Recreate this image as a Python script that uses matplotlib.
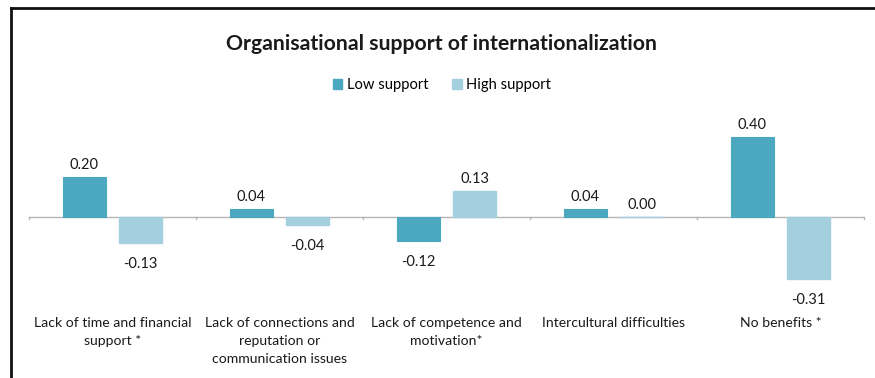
import matplotlib
matplotlib.use("Agg")
import matplotlib.pyplot as plt
from matplotlib.lines import Line2D
from matplotlib.patches import Patch
import numpy as np

categories = [
    "Lack of time and financial\nsupport *",
    "Lack of connections and\nreputation or\ncommunication issues",
    "Lack of competence and\nmotivation*",
    "Intercultural difficulties",
    "No benefits *",
]
low_support = [0.20, 0.04, -0.12, 0.04, 0.40]
high_support = [-0.13, -0.04, 0.13, 0.00, -0.31]
series_names = ["Low support", "High support"]

low_color = "#4BA8BE"
high_color = "#A4CFDF"
text_color = "#1a1a1a"
font = ["Lato", "DejaVu Sans"]

fig = plt.figure(figsize=(8.75, 3.78), dpi=100)
ax = fig.add_axes([29 / 875, 1 - 317 / 378, (864 - 29) / 875, 200 / 378])

x = np.arange(len(categories))
width = 0.26
offset = 0.168
ax.bar(x - offset, low_support, width, color=low_color, edgecolor=low_color,
       linewidth=0.8, label=series_names[0])
ax.bar(x + offset, high_support, width, color=high_color, edgecolor=high_color,
       linewidth=1.0, label=series_names[1])

ax.set_xlim(-0.5, len(categories) - 0.5)
ax.set_ylim(-0.5, 0.5)

# horizontal axis line through zero with category tick marks
ax.axhline(0, color="#b5b5b5", lw=1.0, zorder=0.5)
for b in np.arange(-0.5, len(categories), 1.0):
    ax.plot([b, b], [0, -0.012], color="#b5b5b5", lw=1.0, clip_on=False)

for spine in ax.spines.values():
    spine.set_visible(False)
ax.set_xticks([])
ax.set_yticks([])

# value labels
for xs, vals in ((x - offset, low_support), (x + offset, high_support)):
    for xi, v in zip(xs, vals):
        if v >= 0:
            ax.text(xi, v + 0.06, f"{v:.2f}", ha="center", va="center",
                    fontsize=10.5, color=text_color, family=font)
        else:
            ax.text(xi, v - 0.105, f"{v:.2f}", ha="center", va="center",
                    fontsize=10.5, color=text_color, family=font)

# category labels along the bottom
for xi, cat in zip(x, categories):
    ax.text(xi, -0.498, cat, ha="center", va="top", fontsize=10.1,
            color=text_color, family=font, linespacing=1.62)

fig.text(0.505, 1 - 44 / 378, "Organisational support of internationalization",
         ha="center", va="center", fontsize=15.3, fontweight="bold",
         color=text_color, family=font)

handles = [Patch(color=low_color), Patch(color=high_color)]
fig.legend(handles, series_names, loc="center", bbox_to_anchor=(0.505, 1 - 85 / 378),
           ncol=2, frameon=False, handlelength=0.65, handleheight=0.65,
           handletextpad=0.3, columnspacing=1.6, prop={"family": font, "size": 10.6})

# outer frame: left and top edges
fig.add_artist(Line2D([11 / 875, 11 / 875], [0, 1 - 8 / 378], color="#111111", lw=2.0))
fig.add_artist(Line2D([11 / 875, 1], [1 - 8 / 378, 1 - 8 / 378], color="#111111", lw=2.0))

fig.savefig("out.png", dpi=100, facecolor="white")
